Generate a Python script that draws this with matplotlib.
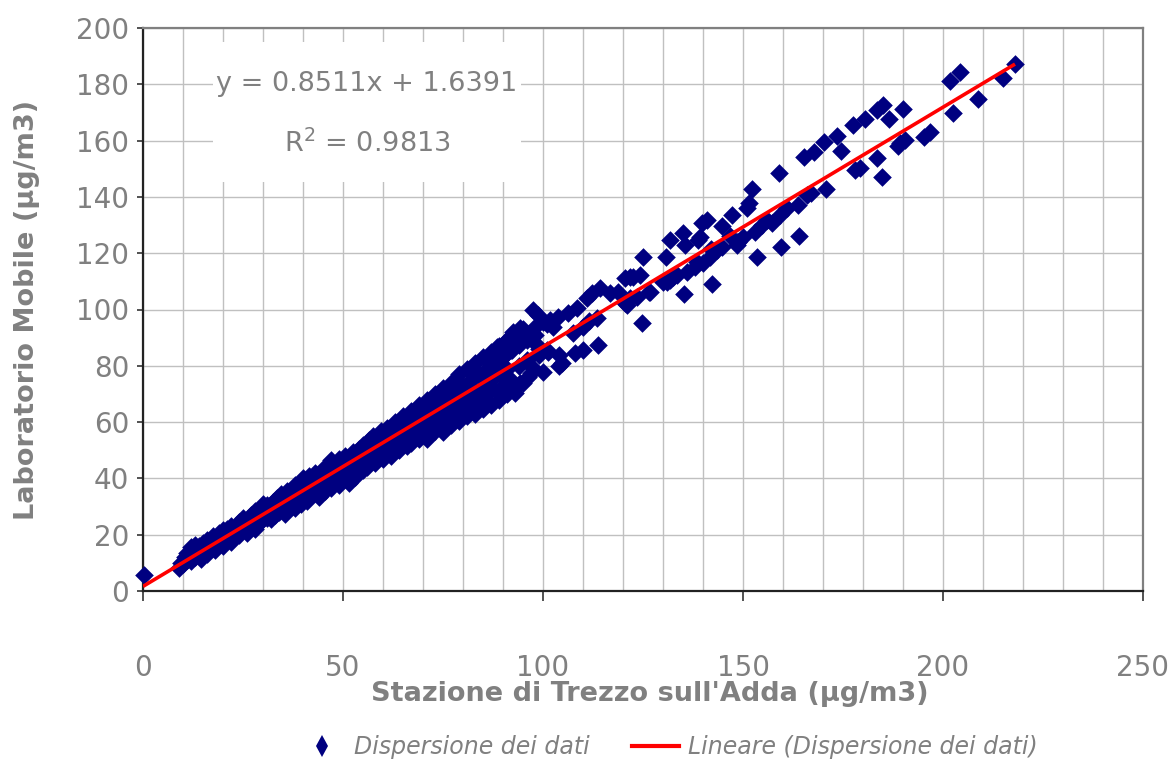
import numpy as np
import matplotlib
matplotlib.use('Agg')
import matplotlib.pyplot as plt
from matplotlib.lines import Line2D
from matplotlib.patches import Rectangle

plt.rcParams['font.family'] = 'DejaVu Sans'
plt.rcParams['axes.unicode_minus'] = False

# coefficienti della retta di regressione (dal grafico)
pendenza = 0.8511
intercetta = 1.6391
r_quadro = 0.9813

# dati: x = Trezzo, y = laboratorio mobile
# tratto 0-30
trezzo_a = [0.3, 9, 9.5, 10, 10.5, 11, 11, 12, 12, 12.5, 13, 13, 14, 14, 14.5, 15, 15, 15.5, 16, 16,
            17, 17, 17.5, 18, 18, 18.5, 19, 19, 19.5, 20, 20, 20.5, 21, 21, 21.5, 22, 22, 23, 23, 23.5,
            24, 24, 25, 25, 25.5, 26, 26, 26.5, 27, 27, 27.5, 28, 28, 28.5, 29, 29, 29.5, 30, 30]
lab_a = [5.7, 8, 10, 9.5, 12, 11, 13.5, 10.5, 15.5, 12.5, 12, 16.5, 13, 16, 11.5, 14, 17, 15.5, 13, 18,
         15, 17, 19.5, 14.5, 18.5, 16.5, 17, 20.5, 18, 16, 21.5, 19, 18, 22, 20, 17.5, 23, 19.5, 22, 21,
         20, 24.5, 21.5, 26, 23, 20.5, 24.5, 22.5, 23.5, 27, 25.5, 22, 28.5, 25, 24, 27, 29, 25.5, 31]

# tratto 30-60
trezzo_b = [30.5, 31, 31, 31.5, 32, 32, 32.5, 33, 33, 33.5, 34, 34, 34.5, 35, 35, 35.5, 36, 36, 36.5,
            37, 37, 37.5, 38, 38, 38.5, 39, 39, 39.5, 40, 40, 40.5, 41, 41, 41.5, 42, 42, 42.5, 43, 43,
            43.5, 44, 44, 44.5, 45, 45, 45.5, 46, 46, 46.5, 47, 47, 47.5, 48, 48, 48.5, 49, 49, 49.5,
            50, 50, 50.5, 51, 51, 51.5, 52, 52, 52.5, 53, 53, 53.5, 54, 54, 54.5, 55, 55, 55.5, 56, 56,
            56.5, 57, 57, 57.5, 58, 58, 58.5, 59, 59, 59.5]
lab_b = [28, 26, 30.5, 27.5, 25.5, 29.5, 31.5, 27, 30, 33, 28, 31, 34.5, 29, 32, 27.5, 33, 35.5, 30,
         31.5, 36, 34, 29.5, 37.5, 33, 35, 38.5, 31, 33.5, 40, 36, 32, 38.5, 41, 34.5, 37, 39.5, 35, 42,
         38, 33.5, 40.5, 37, 43.5, 39, 35.5, 41, 44, 38.5, 36.5, 46.5, 42, 39, 44.5, 41, 37.5, 47, 43,
         39.5, 45.5, 48, 41.5, 44, 38.5, 46.5, 43, 49.5, 40.5, 45, 47.5, 42.5, 50.5, 45, 52, 43, 48.5,
         44, 51, 53.5, 46.5, 49, 55, 45.5, 52, 48.5, 54, 50, 57]

# tratto 60-100
trezzo_c = [60, 60, 61, 61, 61, 62, 62, 63, 63, 63, 64, 64, 65, 65, 65, 66, 66, 67, 67, 67, 68, 68,
            69, 69, 69, 70, 70, 71, 71, 71, 72, 72, 73, 73, 73, 74, 74, 75, 75, 75, 76, 76, 77, 77, 77,
            78, 78, 79, 79, 79, 80, 80, 81, 81, 81, 82, 82, 83, 83, 83, 84, 84, 85, 85, 85, 86, 86, 87,
            87, 87, 88, 88, 89, 89, 89, 90, 90, 91, 91, 91, 92, 92, 93, 93, 94, 94, 95, 95, 96, 96, 97,
            98, 99]
lab_c = [47, 55, 50.5, 58, 53, 48, 56, 52, 60, 55.5, 50, 57.5, 54, 62, 58.5, 51.5, 60, 56, 64, 52.5,
         58, 62.5, 54, 66, 60, 56.5, 63.5, 59, 68, 54, 61.5, 65.5, 57, 70, 63, 59.5, 67, 64.5, 72, 56.5,
         62, 69, 59, 74, 66, 63.5, 70.5, 60.5, 77, 67.5, 65, 73, 62, 79, 69.5, 66.5, 75, 63, 81, 71,
         68, 77, 64.5, 83, 73, 70, 79, 66, 85, 75, 71.5, 81, 68, 87, 77, 73, 83, 70, 89, 79, 75, 85.5,
         72, 91, 80, 87.5, 74, 93, 82, 89, 77.5, 91, 84]

# punti sparsi 85-220
trezzo_d = [84.25, 86, 86.75, 88, 88.4, 89.25, 90.9, 90.9, 90.9, 92.2, 92.6, 92.6, 93, 94.25, 94.25,
            96.3, 97.6, 97.6, 97.6, 98, 98.4, 98.8, 99, 100.1, 100.1, 100.9, 100.9, 101.3, 101.75,
            102.6, 103.8, 103.9, 104, 104.7, 106.3, 107.6, 108, 108.4, 110.1, 110.1, 110.9, 111.5,
            112.2, 113.4, 113.8, 114.25, 116.75, 118.8, 120.5, 120.5, 120.9, 121.75, 121.75, 122.6,
            123.4, 124.25, 124.7, 125.1, 126.6, 126.75, 130.1, 130.75, 130.9, 131.75, 131.75, 132.6,
            133.4, 135.1, 135.25, 135.5, 135.9, 138, 138.5, 138.8, 139.25, 139.7, 140.1, 140.9, 141.75,
            142, 142.2, 143.4, 144.7, 144.7, 146.7, 147.2, 148.4, 148.5, 148.8, 150.1, 150.9, 151.6,
            152.2, 153, 153.4, 154.7, 155.9, 157.2, 159.1, 159.25, 159.4, 160.9, 163.8, 164.1, 165.3,
            166, 166.9, 167.75, 170.3, 170.75, 173.4, 174.4, 177.4, 178, 179.25, 180.5, 183.4, 183.6,
            184.7, 185.1, 186.6, 188.8, 189.25, 189.9, 190.5, 195.3, 196.8, 201.8, 202.6, 204.2,
            208.7, 214.9, 218]
lab_d = [71.4, 73.8, 83.2, 79.1, 86.8, 82, 89.2, 84.4, 76.1, 85.6, 92.1, 73.8, 70.2, 93.3, 73.8,
         76.1, 79.1, 90.9, 99.8, 93.9, 87.4, 98, 86, 95.7, 77.9, 85.6, 94.9, 85, 96.3,
         93.9, 97.4, 84, 80, 80.9, 98.6, 91.5, 84.7, 100.4, 93.9, 85.6, 104, 96,
         105.8, 96.9, 87.4, 107.5, 105.8, 106.3, 111.1, 102.4, 101.6, 111.7, 104, 111.7,
         104.5, 112.3, 95.3, 118.8, 106.1, 106.3, 109.9, 118.8, 109.9, 124.7, 110.5, 111.7,
         112.3, 127.1, 105.5, 122.9, 113.4, 115.2, 116.8, 124.7, 125.9, 130.6, 116.4, 131.8, 118.8,
         121.5, 109.1, 121.1, 129.7, 122.3, 126, 133.6, 122.9, 124, 124.1, 125.9, 135.9, 137.7,
         142.8, 127.6, 118.8, 130, 131.8, 130.8, 148.6, 133.6, 122.3, 135.9, 137.1, 126.1, 154.3,
         140.5, 141.3, 156.1, 159.6, 142.7, 161.6, 156.4, 165.5, 149.6, 150.2, 167.6, 170.9, 153.7,
         147, 172.6, 167.6, 158, 159, 171.2, 160.2, 161.4, 163.2, 181.3, 169.7, 184.5,
         174.7, 182.1, 187.2]

trezzo = np.array(trezzo_a + trezzo_b + trezzo_c + trezzo_d)
laboratorio = np.array(lab_a + lab_b + lab_c + lab_d)

grigio = '#808080'
blu = '#000080'

fig = plt.figure(figsize=(11.76, 7.65), dpi=100)
ax = fig.add_axes([143/1176, 1-591/765, 1000/1176, 563/765])

ax.scatter(trezzo, laboratorio, marker='D', s=90, color=blu, linewidths=0, zorder=3, clip_on=False)

# linea di tendenza
xr = np.array([0, trezzo.max()])
ax.plot(xr, pendenza*xr + intercetta, color='#ff0000', lw=2.6, zorder=4, solid_capstyle='butt')

ax.set_xlim(0, 250)
ax.set_ylim(0, 200)
ax.set_xticks(np.arange(0, 251, 50))
ax.set_xticks(np.arange(0, 251, 10), minor=True)
ax.set_yticks(np.arange(0, 201, 20))
ax.set_axisbelow(True)
ax.grid(True, which='both', axis='x', color='#c0c0c0', lw=1)
ax.grid(True, which='major', axis='y', color='#c0c0c0', lw=1)

ax.tick_params(axis='x', which='major', direction='out', length=7, width=1.2, color='#333333',
               pad=38, labelsize=20, labelcolor=grigio)
ax.tick_params(axis='x', which='minor', length=0)
ax.tick_params(axis='y', direction='out', length=4, width=1.2, color='#333333',
               pad=6, labelsize=20, labelcolor=grigio)

for lato in ['left', 'bottom']:
    ax.spines[lato].set_color('#222222')
    ax.spines[lato].set_linewidth(1.6)
for lato in ['top', 'right']:
    ax.spines[lato].set_color('#808080')
    ax.spines[lato].set_linewidth(1.6)

ax.set_xlabel("Stazione di Trezzo sull'Adda (µg/m3)", fontsize=19.5, fontweight='bold', color=grigio)
ax.xaxis.set_label_coords(0.507, -0.16)
ax.set_ylabel('Laboratorio Mobile (µg/m3)', fontsize=19.5, fontweight='bold', color=grigio)
ax.yaxis.set_label_coords(-0.103, 0.5)

# riquadro con equazione
ax.add_patch(Rectangle((0.07, 0.7265), 0.308, 0.2485, transform=ax.transAxes,
                       facecolor='white', edgecolor='none', zorder=1))
ax.text(0.224, 0.9, 'y = %.4fx + %.4f' % (pendenza, intercetta), transform=ax.transAxes,
        ha='center', va='center', fontsize=19.5, color=grigio, zorder=2)
ax.text(0.224, 0.795, 'R$^2$ = %.4f' % r_quadro, transform=ax.transAxes,
        ha='center', va='center', fontsize=19.5, color=grigio, zorder=2)

# legenda
maniglie = [Line2D([], [], ls='none', marker='d', ms=11, color=blu, mew=0),
            Line2D([], [], color='#ff0000', lw=3)]
fig.legend(maniglie, ['Dispersione dei dati', 'Lineare (Dispersione dei dati)'],
           loc='center', bbox_to_anchor=(0.568, 0.023), ncol=2, frameon=False,
           prop={'size': 17, 'style': 'italic'}, labelcolor=grigio,
           handlelength=2.0, handletextpad=0.35, columnspacing=1.8)

plt.savefig('out.png', dpi=100)
